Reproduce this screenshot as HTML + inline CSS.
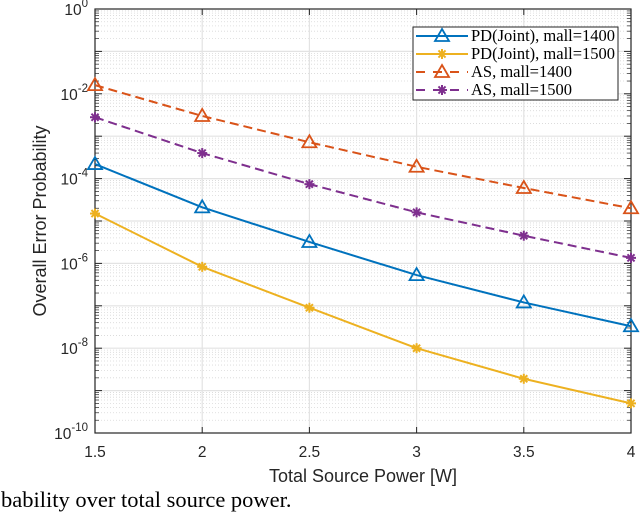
<!DOCTYPE html>
<html><head><meta charset="utf-8"><style>
body{margin:0;background:#fff;width:640px;height:515px;overflow:hidden}
svg{display:block}
</style></head><body>
<svg id="chart" width="640" height="515" xmlns="http://www.w3.org/2000/svg" font-family="Liberation Sans, sans-serif">
<g id="grid"></g>
<g id="axes"></g>
<g id="series"></g>
<text x="46" y="221" font-size="18" fill="#262626" text-anchor="middle" transform="rotate(-90 46 221)">Overall Error Probability</text>
<text x="363" y="482" font-size="18" fill="#262626" text-anchor="middle">Total Source Power [W]</text>
<text x="1" y="507" font-size="22.5" font-family="Liberation Serif, serif" fill="#000">bability over total source power.</text>
<g id="legend"></g>
</svg>
<script>
const xValues=[1.5,2,2.5,3,3.5,4];
const pdJoint1400=[2.2e-4,2.1e-5,3.2e-6,5.3e-7,1.2e-7,3.3e-8];
const pdJoint1500=[1.5e-5,8.3e-7,9e-8,1.0e-8,1.9e-9,5e-10];
const as1400=[1.6e-2,3e-3,7.2e-4,1.9e-4,6e-5,2e-5];
const as1500=[2.8e-3,4e-4,7.4e-5,1.6e-5,4.5e-6,1.35e-6];
const xTicks=[1.5,2,2.5,3,3.5,4];
const yTickExps=[0,-2,-4,-6,-8,-10];
const legendLabels=["PD(Joint), mall=1400","PD(Joint), mall=1500","AS, mall=1400","AS, mall=1500"];

const NS="http://www.w3.org/2000/svg";
const L=95,R=631,T=9,B=433;
const xs=v=>L+(v-1.5)/(4-1.5)*(R-L);
const ys=v=>T+(-Math.log10(v))/10*(B-T);
function mk(tag,attrs,parent){const e=document.createElementNS(NS,tag);for(const k in attrs)e.setAttribute(k,attrs[k]);parent.appendChild(e);return e;}
const grid=document.getElementById('grid'),axes=document.getElementById('axes'),ser=document.getElementById('series'),leg=document.getElementById('legend');
mk('rect',{x:L,y:T,width:R-L,height:B-T,fill:'#fff'},grid);
for(let d=0;d<10;d++){for(let m=2;m<=9;m++){const y=ys(m*Math.pow(10,-d-1));const l=mk('line',{x1:L,x2:R,y1:y,y2:y,stroke:'#d8d8d8','stroke-width':0.8,'stroke-dasharray':'1,2'},grid);
 mk('line',{x1:L,x2:L+4,y1:y,y2:y,stroke:'#262626','stroke-width':0.7},axes);mk('line',{x1:R,x2:R-4,y1:y,y2:y,stroke:'#262626','stroke-width':0.7},axes);}}
for(let e=0;e>=-10;e--){const y=ys(Math.pow(10,e));if(e<0&&e>-10){const l=mk('line',{x1:L,x2:R,y1:y,y2:y,stroke:'#e3e3e3','stroke-width':1.2},grid);}
 mk('line',{x1:L,x2:L+7,y1:y,y2:y,stroke:'#262626'},axes);mk('line',{x1:R,x2:R-7,y1:y,y2:y,stroke:'#262626'},axes);}
xTicks.forEach(v=>{const x=xs(v);const l=mk('line',{x1:x,x2:x,y1:T,y2:B,stroke:'#e3e3e3','stroke-width':1.2},grid);
 mk('line',{x1:x,x2:x,y1:B,y2:B-6,stroke:'#262626'},axes);mk('line',{x1:x,x2:x,y1:T,y2:T+6,stroke:'#262626'},axes);
 const t=mk('text',{x:x,y:457,'font-size':15.5,fill:'#262626','text-anchor':'middle'},axes);t.textContent=String(v);});
yTickExps.forEach(e=>{const y=ys(Math.pow(10,e));const t=mk('text',{x:88,y:y+6,'font-size':15.5,fill:'#262626','text-anchor':'end'},axes);t.textContent='10';const s=mk('tspan',{dy:-8,'font-size':11.5},t);s.textContent=String(e);});
mk('rect',{x:L,y:T,width:R-L,height:B-T,fill:'none',stroke:'#262626','stroke-width':1.2},axes);

function tri(g,x,y,c){mk('path',{d:`M${x} ${y-7}L${x+7} ${y+5}L${x-7} ${y+5}Z`,fill:'none',stroke:c,'stroke-width':1.8},g);}
function star(g,x,y,c){for(let a=0;a<4;a++){const an=a*Math.PI/4;mk('line',{x1:x-5*Math.cos(an),y1:y-5*Math.sin(an),x2:x+5*Math.cos(an),y2:y+5*Math.sin(an),stroke:c,'stroke-width':2},g);}}
const defs=[[pdJoint1400,'#0072bd',null,tri,'series-pd-joint-1400'],[pdJoint1500,'#edb120',null,star,'series-pd-joint-1500'],[as1400,'#d95319','9,5',tri,'series-as-1400'],[as1500,'#7e2f8e','9,5',star,'series-as-1500']];
const lrect=mk('rect',{x:413,y:27,width:205,height:73,fill:'#fff',stroke:'#262626','stroke-width':1},leg);
defs.forEach((d,i)=>{const g=mk('g',{},ser);
 const pts=d[0].map((v,j)=>xs(xValues[j])+','+ys(v)).join(' ');
 const pl=mk('polyline',{points:pts,fill:'none',stroke:d[1],'stroke-width':2},g);if(d[2])pl.setAttribute('stroke-dasharray',d[2]);
 d[0].forEach((v,j)=>d[3](g,xs(xValues[j]),ys(v),d[1]));
 const ly=36+i*18;const lg=mk('g',{},leg);
 const ll=mk('line',{x1:416,x2:468,y1:ly,y2:ly,stroke:d[1],'stroke-width':2},lg);if(d[2])ll.setAttribute('stroke-dasharray','9,8');
 d[3](lg,442,ly,d[1]);
 const t=mk('text',{x:471,y:ly+5,'font-size':16.5,'font-family':'Liberation Serif, serif',fill:'#000'},lg);t.textContent=legendLabels[i];});
</script>
</body></html>
